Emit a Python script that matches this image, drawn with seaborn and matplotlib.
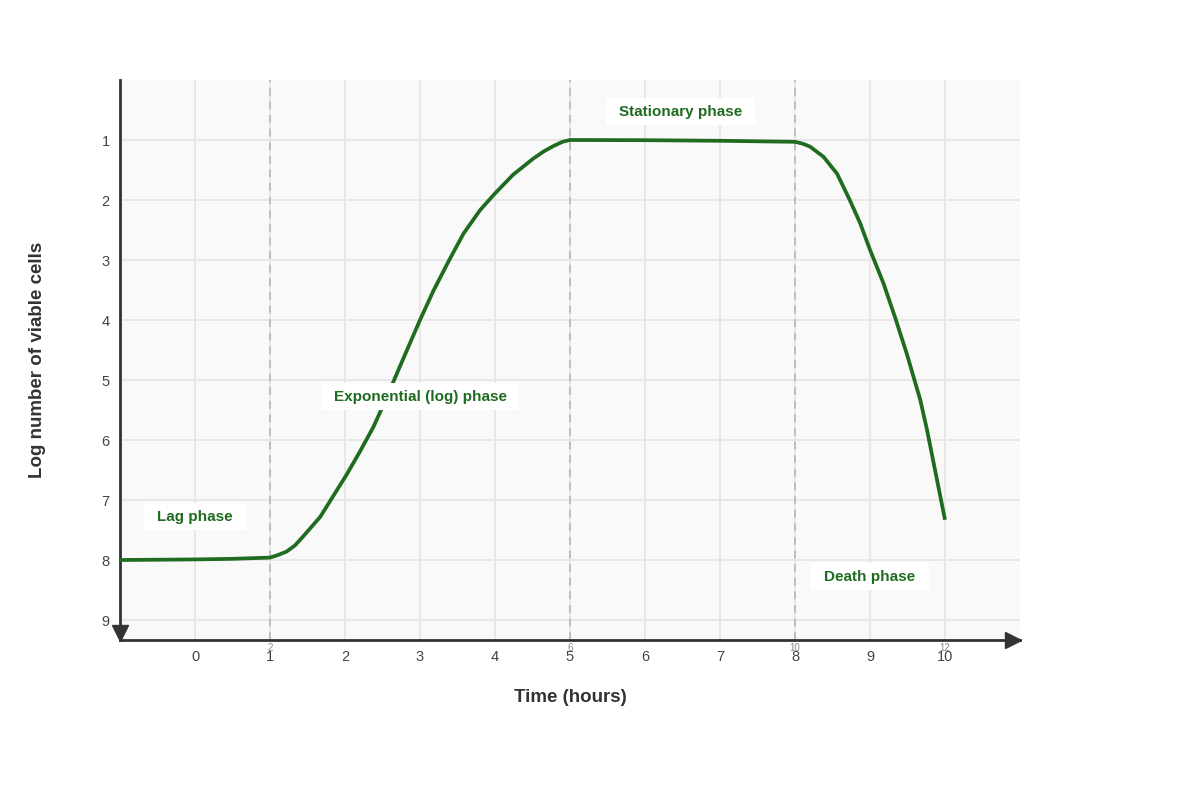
import matplotlib
matplotlib.use("Agg")
import matplotlib.pyplot as plt
import seaborn as sns
import pandas as pd

# Curve points (x in hour-tick units, y = log count, axis inverted)
time_vals = [-1.0, -0.5, 0.0, 0.5, 1.0, 1.1, 1.22, 1.33, 1.44, 1.67, 1.84, 2.02, 2.2, 2.38, 2.56, 2.73, 2.91,
             3.0, 3.18, 3.39, 3.58, 3.8, 4.0, 4.24, 4.51, 4.65, 4.78, 4.9, 5.0,
             6.0, 7.0, 8.0, 8.1, 8.2, 8.38, 8.56, 8.73, 8.87, 9.0, 9.18, 9.33, 9.49, 9.67, 9.76, 9.84, 10.0]
log_cells = [8.0, 7.995, 7.99, 7.98, 7.96, 7.92, 7.86, 7.76, 7.61, 7.28, 6.94, 6.58, 6.19, 5.78, 5.28, 4.78, 4.26,
             4.0, 3.51, 3.0, 2.56, 2.17, 1.89, 1.58, 1.31, 1.19, 1.1, 1.03, 1.0,
             1.003, 1.013, 1.03, 1.06, 1.11, 1.28, 1.56, 2.0, 2.39, 2.83, 3.39, 3.94, 4.56, 5.33, 5.83, 6.33, 7.33]

x_ticks = [0, 1, 2, 3, 4, 5, 6, 7, 8, 9, 10]
y_ticks = [1, 2, 3, 4, 5, 6, 7, 8, 9]
boundary_x = [1, 5, 8]
boundary_labels = ["2", "6", "10", "12"]
boundary_label_x = [1, 5, 8, 10]
phase_names = ["Lag phase", "Exponential (log) phase", "Stationary phase", "Death phase"]
phase_x = [0, 3, 6.47, 9]
phase_y = [7.28, 5.28, 0.53, 8.28]

sns.set_theme(style="white")
plt.rcParams['font.family'] = ['Liberation Sans', 'DejaVu Sans']

fig = plt.figure(figsize=(12, 8), dpi=100)
ax = fig.add_axes([0.1, 0.2, 0.75, 0.7])
ax.set_facecolor("#f9f9f9")

df = pd.DataFrame({"t": time_vals, "v": log_cells})
green = "#1f6b1f"
sns.lineplot(data=df, x="t", y="v", ax=ax, color=green, linewidth=2.7, zorder=4, sort=False)
for line in ax.lines:
    line.set_solid_joinstyle("round")
    line.set_solid_capstyle("butt")

ax.set_xlim(-1, 11)
ax.set_ylim(9.333, 0)
ax.set_xticks(x_ticks)
ax.set_xticklabels([str(t) for t in x_ticks])
ax.set_yticks(y_ticks)
ax.set_yticklabels([str(t) for t in y_ticks])
ax.grid(True, color="#e6e6e6", linewidth=1.3, zorder=0)
ax.set_axisbelow(True)

for bx in boundary_x:
    ax.axvline(bx, color="#bdbdbd", linestyle=(0, (4, 3)), linewidth=1.4, zorder=2)

for s in ["top", "right"]:
    ax.spines[s].set_visible(False)
for s in ["left", "bottom"]:
    ax.spines[s].set_color("#333333")
    ax.spines[s].set_linewidth(2)

ax.tick_params(axis="both", direction="inout", length=9, width=1.5, color="#333333",
               labelsize=10.5, labelcolor="#444444")
ax.tick_params(axis="x", pad=3)
ax.tick_params(axis="y", pad=3)

# axis arrows
ax.plot([0], [0.0125], marker="v", markersize=11, color="#333333", transform=ax.transAxes,
        clip_on=False, zorder=6)
ax.plot([0.992], [0], marker=">", markersize=12, color="#333333", transform=ax.transAxes,
        clip_on=False, zorder=6)

for lbl, lx in zip(boundary_labels, boundary_label_x):
    ax.text(lx, -0.0145, lbl, transform=ax.get_xaxis_transform(), ha="center", va="center",
            fontsize=7, color="#888888")

for name, px, py in zip(phase_names, phase_x, phase_y):
    ax.text(px, py, name, ha="center", va="center", fontsize=11, fontweight="bold", color=green,
            zorder=5, bbox=dict(boxstyle="square,pad=0.85", facecolor="white", edgecolor="none",
                                mutation_aspect=0.5))

ax.set_xlabel("Time (hours)", fontsize=13.5, fontweight="bold", color="#333333", labelpad=18)
ax.set_ylabel("Log number of viable cells", fontsize=13.5, fontweight="bold", color="#333333",
              labelpad=40)

fig.savefig("out.png", dpi=100, facecolor="white")
